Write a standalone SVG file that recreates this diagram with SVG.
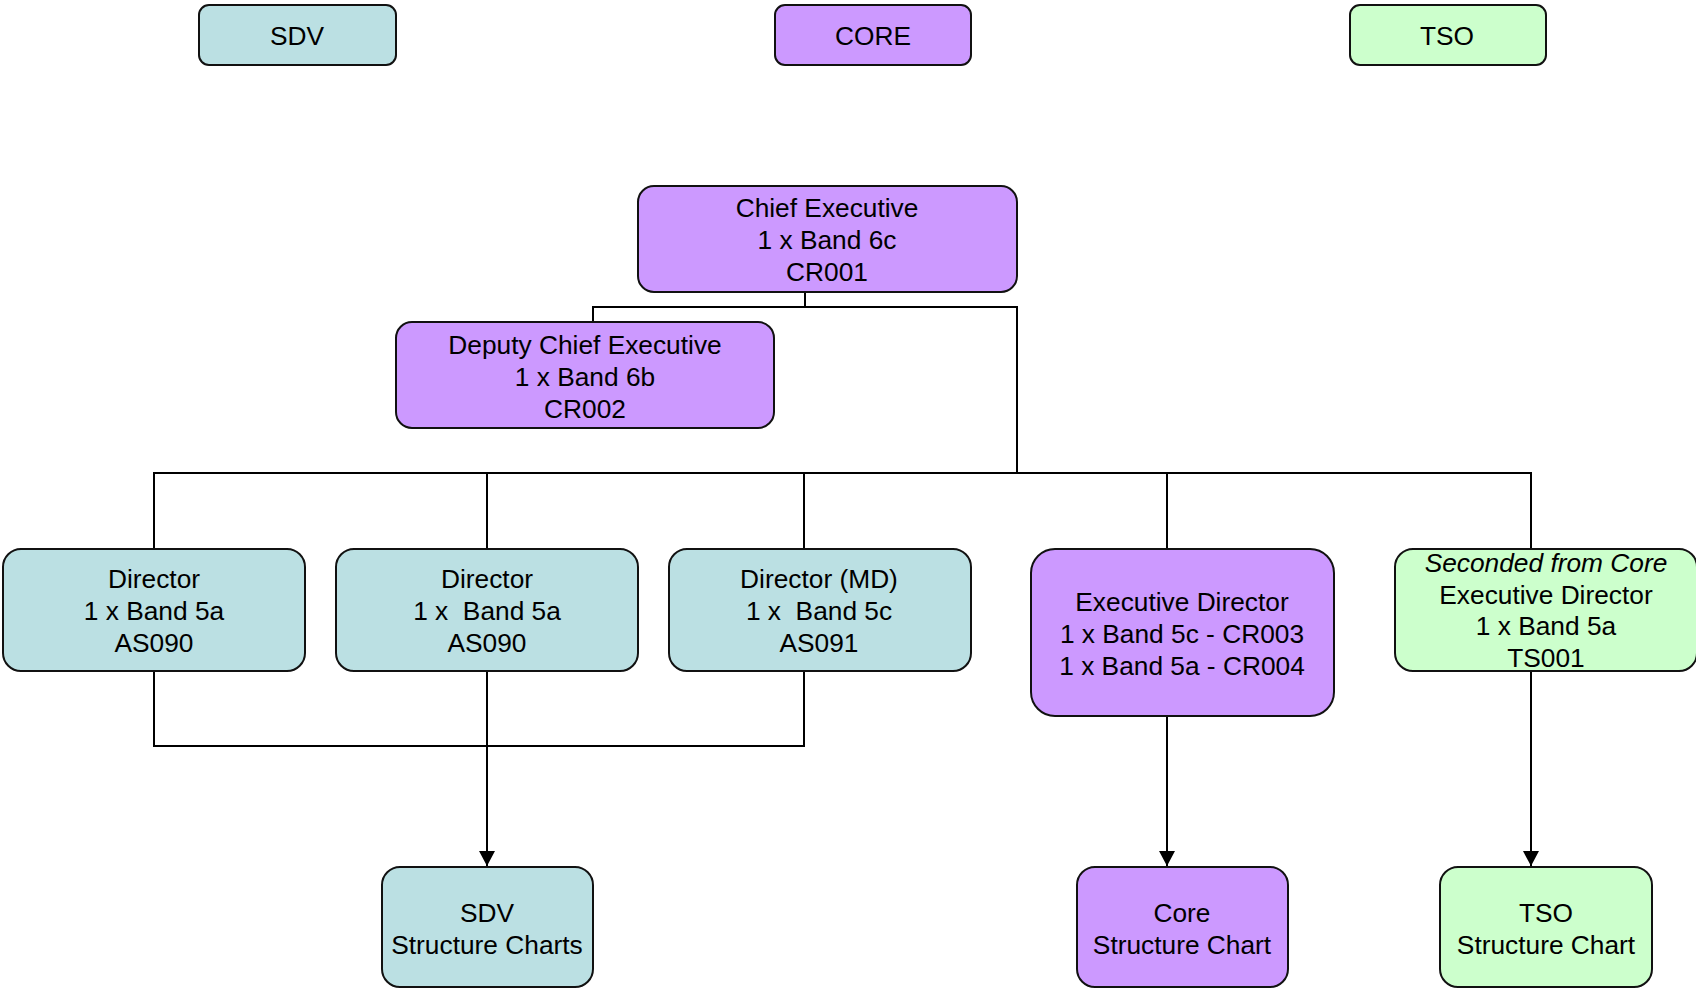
<svg xmlns="http://www.w3.org/2000/svg" width="1696" height="993" viewBox="0 0 1696 993">
<style>
.n rect{stroke:#111;stroke-width:2}
.b{fill:#BBE0E3}.p{fill:#CC99FF}.g{fill:#CCFFCC}
text{font-family:"Liberation Sans",Arial,sans-serif;font-size:26.3px;fill:#000;text-anchor:middle;white-space:pre}
.c path{fill:none;stroke:#000;stroke-width:2}
</style>
<defs>
<marker id="ah" markerWidth="16" markerHeight="16" refX="15" refY="8" orient="auto" markerUnits="userSpaceOnUse"><path d="M0,0 L15,8 L0,16 z" fill="#000"/></marker>
</defs>
<rect width="1696" height="993" fill="#fff"/>
<g class="c">
<path d="M805,292 V307 M593,322 V307 H1017 V473"/>
<path d="M154,549 V473 H1531 V549 M487,473 V549 M804,473 V549 M1167,473 V549"/>
<path d="M154,671 V746 H804 V671"/>
<path d="M487,671 V866" marker-end="url(#ah)"/>
<path d="M1167,716 V866" marker-end="url(#ah)"/>
<path d="M1531,671 V866" marker-end="url(#ah)"/>
</g>
<g id="sdv" class="n"><rect class="b" x="199" y="5" width="197" height="60" rx="10"/><text x="297" y="45">SDV</text></g>
<g id="core" class="n"><rect class="p" x="775" y="5" width="196" height="60" rx="10"/><text x="873" y="45">CORE</text></g>
<g id="tso" class="n"><rect class="g" x="1350" y="5" width="196" height="60" rx="10"/><text x="1447" y="45">TSO</text></g>
<g id="chief" class="n"><rect class="p" x="638" y="186" width="379" height="106" rx="16"/><text x="827" y="217">Chief Executive</text><text x="827" y="249">1 x Band 6c</text><text x="827" y="281">CR001</text></g>
<g id="deputy" class="n"><rect class="p" x="396" y="322" width="378" height="106" rx="16"/><text x="585" y="354">Deputy Chief Executive</text><text x="585" y="386">1 x Band 6b</text><text x="585" y="418">CR002</text></g>
<g id="dir1" class="n"><rect class="b" x="3" y="549" width="302" height="122" rx="18"/><text x="154" y="588">Director</text><text x="154" y="620">1 x Band 5a</text><text x="154" y="652">AS090</text></g>
<g id="dir2" class="n"><rect class="b" x="336" y="549" width="302" height="122" rx="18"/><text x="487" y="588">Director</text><text x="487" y="620">1 x  Band 5a</text><text x="487" y="652">AS090</text></g>
<g id="dir3" class="n"><rect class="b" x="669" y="549" width="302" height="122" rx="18"/><text x="819" y="588">Director (MD)</text><text x="819" y="620">1 x  Band 5c</text><text x="819" y="652">AS091</text></g>
<g id="execdir" class="n"><rect class="p" x="1031" y="549" width="303" height="167" rx="24"/><text x="1182" y="611">Executive Director</text><text x="1182" y="643">1 x Band 5c - CR003</text><text x="1182" y="675">1 x Band 5a - CR004</text></g>
<g id="seconded" class="n"><rect class="g" x="1395" y="549" width="302" height="122" rx="18"/><text x="1546" y="572" font-style="italic">Seconded from Core</text><text x="1546" y="604">Executive Director</text><text x="1546" y="635">1 x Band 5a</text><text x="1546" y="667">TS001</text></g>
<g id="sdvchart" class="n"><rect class="b" x="382" y="867" width="211" height="120" rx="18"/><text x="487" y="922">SDV</text><text x="487" y="954">Structure Charts</text></g>
<g id="corechart" class="n"><rect class="p" x="1077" y="867" width="211" height="120" rx="18"/><text x="1182" y="922">Core</text><text x="1182" y="954">Structure Chart</text></g>
<g id="tsochart" class="n"><rect class="g" x="1440" y="867" width="212" height="120" rx="18"/><text x="1546" y="922">TSO</text><text x="1546" y="954">Structure Chart</text></g>
</svg>
